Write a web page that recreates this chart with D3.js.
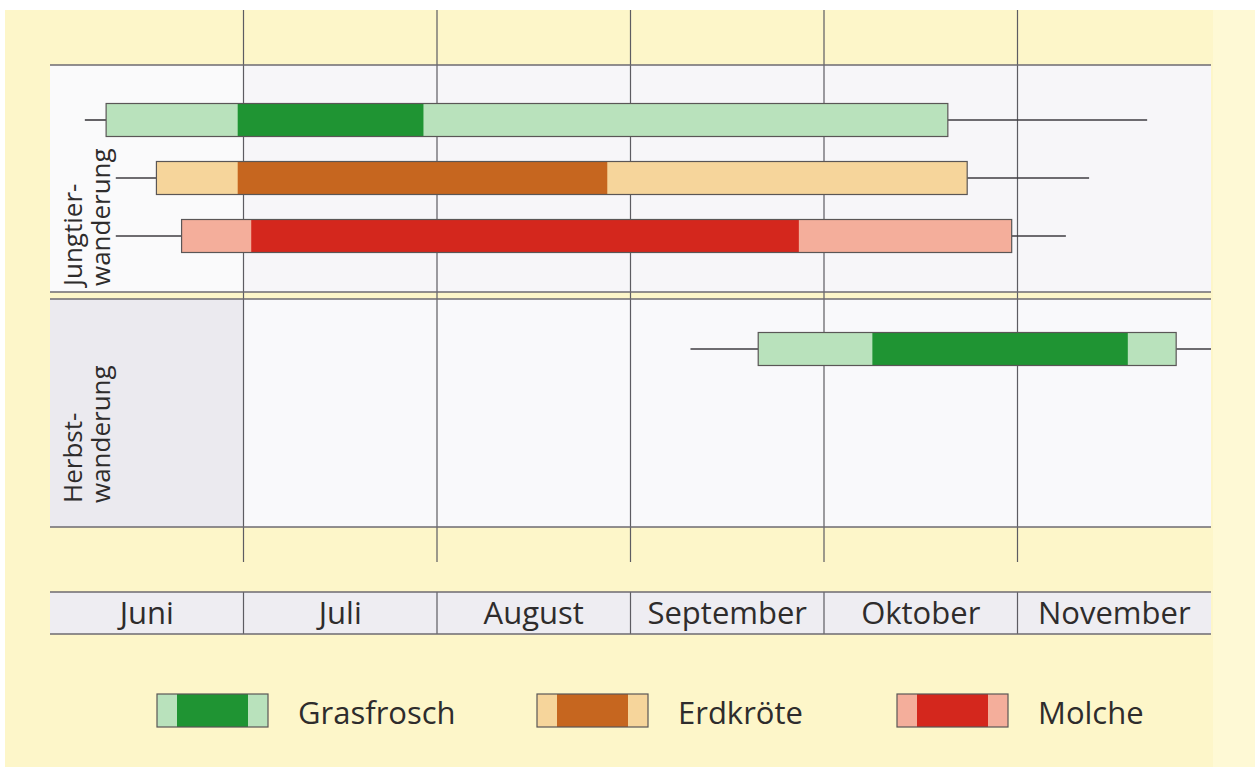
<!DOCTYPE html>
<html>
<head>
<meta charset="utf-8">
<script src="https://cdn.jsdelivr.net/npm/d3@7/dist/d3.min.js"></script>
<style>
  html, body { margin: 0; padding: 0; background: #ffffff; }
  svg { display: block; }
  text { font-family: "Open Sans", "Noto Sans", sans-serif; fill: #2e2c2c; }
</style>
</head>
<body>
<svg id="chart" width="1255" height="767"></svg>
<script>
// ---- data (month units, 0 = start of Juni) ----
const months = ["Juni", "Juli", "August", "September", "Oktober", "November"];
const species = ["Grasfrosch", "Erdkröte", "Molche"];
const phases = ["Jungtier-\nwanderung", "Herbst-\nwanderung"];

// [whiskerStart, boxStart, peakStart, peakEnd, boxEnd, whiskerEnd]
const jungGrasfrosch = [0.18, 0.29, 0.97, 1.93, 4.64, 5.67];
const jungErdkroete  = [0.34, 0.55, 0.97, 2.88, 4.74, 5.37];
const jungMolche     = [0.34, 0.68, 1.04, 3.87, 4.97, 5.25];
const herbstGrasfrosch = [3.31, 3.66, 4.25, 5.57, 5.82, 6.00];

const lightColors = ["#b9e2bc", "#f6d59b", "#f4ae9b"];
const darkColors  = ["#1f9433", "#c6661f", "#d4271d"];

// ---- layout ----
const svg = d3.select("#chart");
const W = 1255, H = 767;
const left = 50, right = 1211;

const x = d3.scaleLinear().domain([0, months.length]).range([left, right]);

svg.append("rect").attr("x", 5).attr("y", 10).attr("width", W - 5).attr("height", H - 10).attr("fill", "#fdf6c9");
svg.append("rect").attr("x", right + 2).attr("y", 10).attr("width", W - right - 2).attr("height", H - 10).attr("fill", "#fef9d5");

const panels = [
  { top: 65, bottom: 292, fill: "#f7f6f9", labelFill: "#fafafb", labelY: 286 },
  { top: 299, bottom: 527, fill: "#f9f9fb", labelFill: "#ebeaef", labelY: 503 }
];

panels.forEach(p => {
  svg.append("rect").attr("x", left).attr("y", p.top).attr("width", right - left).attr("height", p.bottom - p.top).attr("fill", p.fill);
  svg.append("rect").attr("x", left).attr("y", p.top).attr("width", x(1) - left).attr("height", p.bottom - p.top).attr("fill", p.labelFill);
});

// vertical month grid lines
svg.append("g").selectAll("line").data(d3.range(1, months.length)).join("line")
  .attr("x1", d => x(d)).attr("x2", d => x(d))
  .attr("y1", 10).attr("y2", 562)
  .attr("stroke", "#5d5c62").attr("stroke-width", 1.2);

// panel borders
panels.forEach(p => {
  [p.top, p.bottom].forEach(yy => {
    svg.append("line").attr("x1", left).attr("x2", right).attr("y1", yy).attr("y2", yy)
      .attr("stroke", "#6c6a70").attr("stroke-width", 1.3);
  });
});

// phase labels
phases.forEach((ph, i) => {
  const p = panels[i];
  const lines = ph.split("\n");
  const t = svg.append("text")
    .attr("transform", `translate(82, ${p.labelY}) rotate(-90)`)
    .attr("font-size", 26)
    .attr("text-anchor", "start");
  lines.forEach((ln, j) => {
    t.append("tspan").attr("x", 0).attr("dy", j === 0 ? 0 : 28).text(ln);
  });
});

// bars
const rowsJung = d3.scalePoint().domain(species).range([120, 236]);
const barH = 33;

function drawBar(d, cy, k) {
  const g = svg.append("g");
  g.append("line").attr("x1", x(d[0])).attr("x2", x(d[1])).attr("y1", cy).attr("y2", cy)
    .attr("stroke", "#3f3d42").attr("stroke-width", 1.6);
  g.append("line").attr("x1", x(d[4])).attr("x2", x(d[5])).attr("y1", cy).attr("y2", cy)
    .attr("stroke", "#3f3d42").attr("stroke-width", 1.6);
  g.append("rect").attr("x", x(d[1])).attr("y", cy - barH / 2).attr("width", x(d[4]) - x(d[1])).attr("height", barH)
    .attr("fill", lightColors[k]);
  g.append("rect").attr("x", x(d[2])).attr("y", cy - barH / 2).attr("width", x(d[3]) - x(d[2])).attr("height", barH)
    .attr("fill", darkColors[k]);
  g.append("rect").attr("x", x(d[1])).attr("y", cy - barH / 2).attr("width", x(d[4]) - x(d[1])).attr("height", barH)
    .attr("fill", "none").attr("stroke", "#5a5656").attr("stroke-width", 1.2);
}

[jungGrasfrosch, jungErdkroete, jungMolche].forEach((d, k) => drawBar(d, rowsJung(species[k]), k));
drawBar(herbstGrasfrosch, 349, 0);

// month bar
const mTop = 592, mBot = 634;
svg.append("rect").attr("x", left).attr("y", mTop).attr("width", right - left).attr("height", mBot - mTop)
  .attr("fill", "#eeedf2");
svg.append("g").selectAll("line").data(d3.range(1, months.length)).join("line")
  .attr("x1", d => x(d)).attr("x2", d => x(d)).attr("y1", mTop).attr("y2", mBot)
  .attr("stroke", "#5d5c62").attr("stroke-width", 1.2);
[mTop, mBot].forEach(yy => svg.append("line").attr("x1", left).attr("x2", right).attr("y1", yy).attr("y2", yy)
  .attr("stroke", "#6c6a70").attr("stroke-width", 1.3));
svg.append("g").selectAll("text").data(months).join("text")
  .attr("x", (d, i) => x(i + 0.5)).attr("y", 624)
  .attr("text-anchor", "middle").attr("font-size", 31)
  .text(d => d);

// legend
const legX = [157, 537, 897];
const legY = 694, legH = 33, legW = 111, legSide = 20;
species.forEach((s, k) => {
  const g = svg.append("g");
  g.append("rect").attr("x", legX[k]).attr("y", legY).attr("width", legW).attr("height", legH).attr("fill", lightColors[k]);
  g.append("rect").attr("x", legX[k] + legSide).attr("y", legY).attr("width", legW - 2 * legSide).attr("height", legH).attr("fill", darkColors[k]);
  g.append("rect").attr("x", legX[k]).attr("y", legY).attr("width", legW).attr("height", legH)
    .attr("fill", "none").attr("stroke", "#5a5656").attr("stroke-width", 1.2);
  g.append("text").attr("x", legX[k] + legW + 30).attr("y", 724).attr("font-size", 31).text(s);
});
</script>
</body>
</html>
